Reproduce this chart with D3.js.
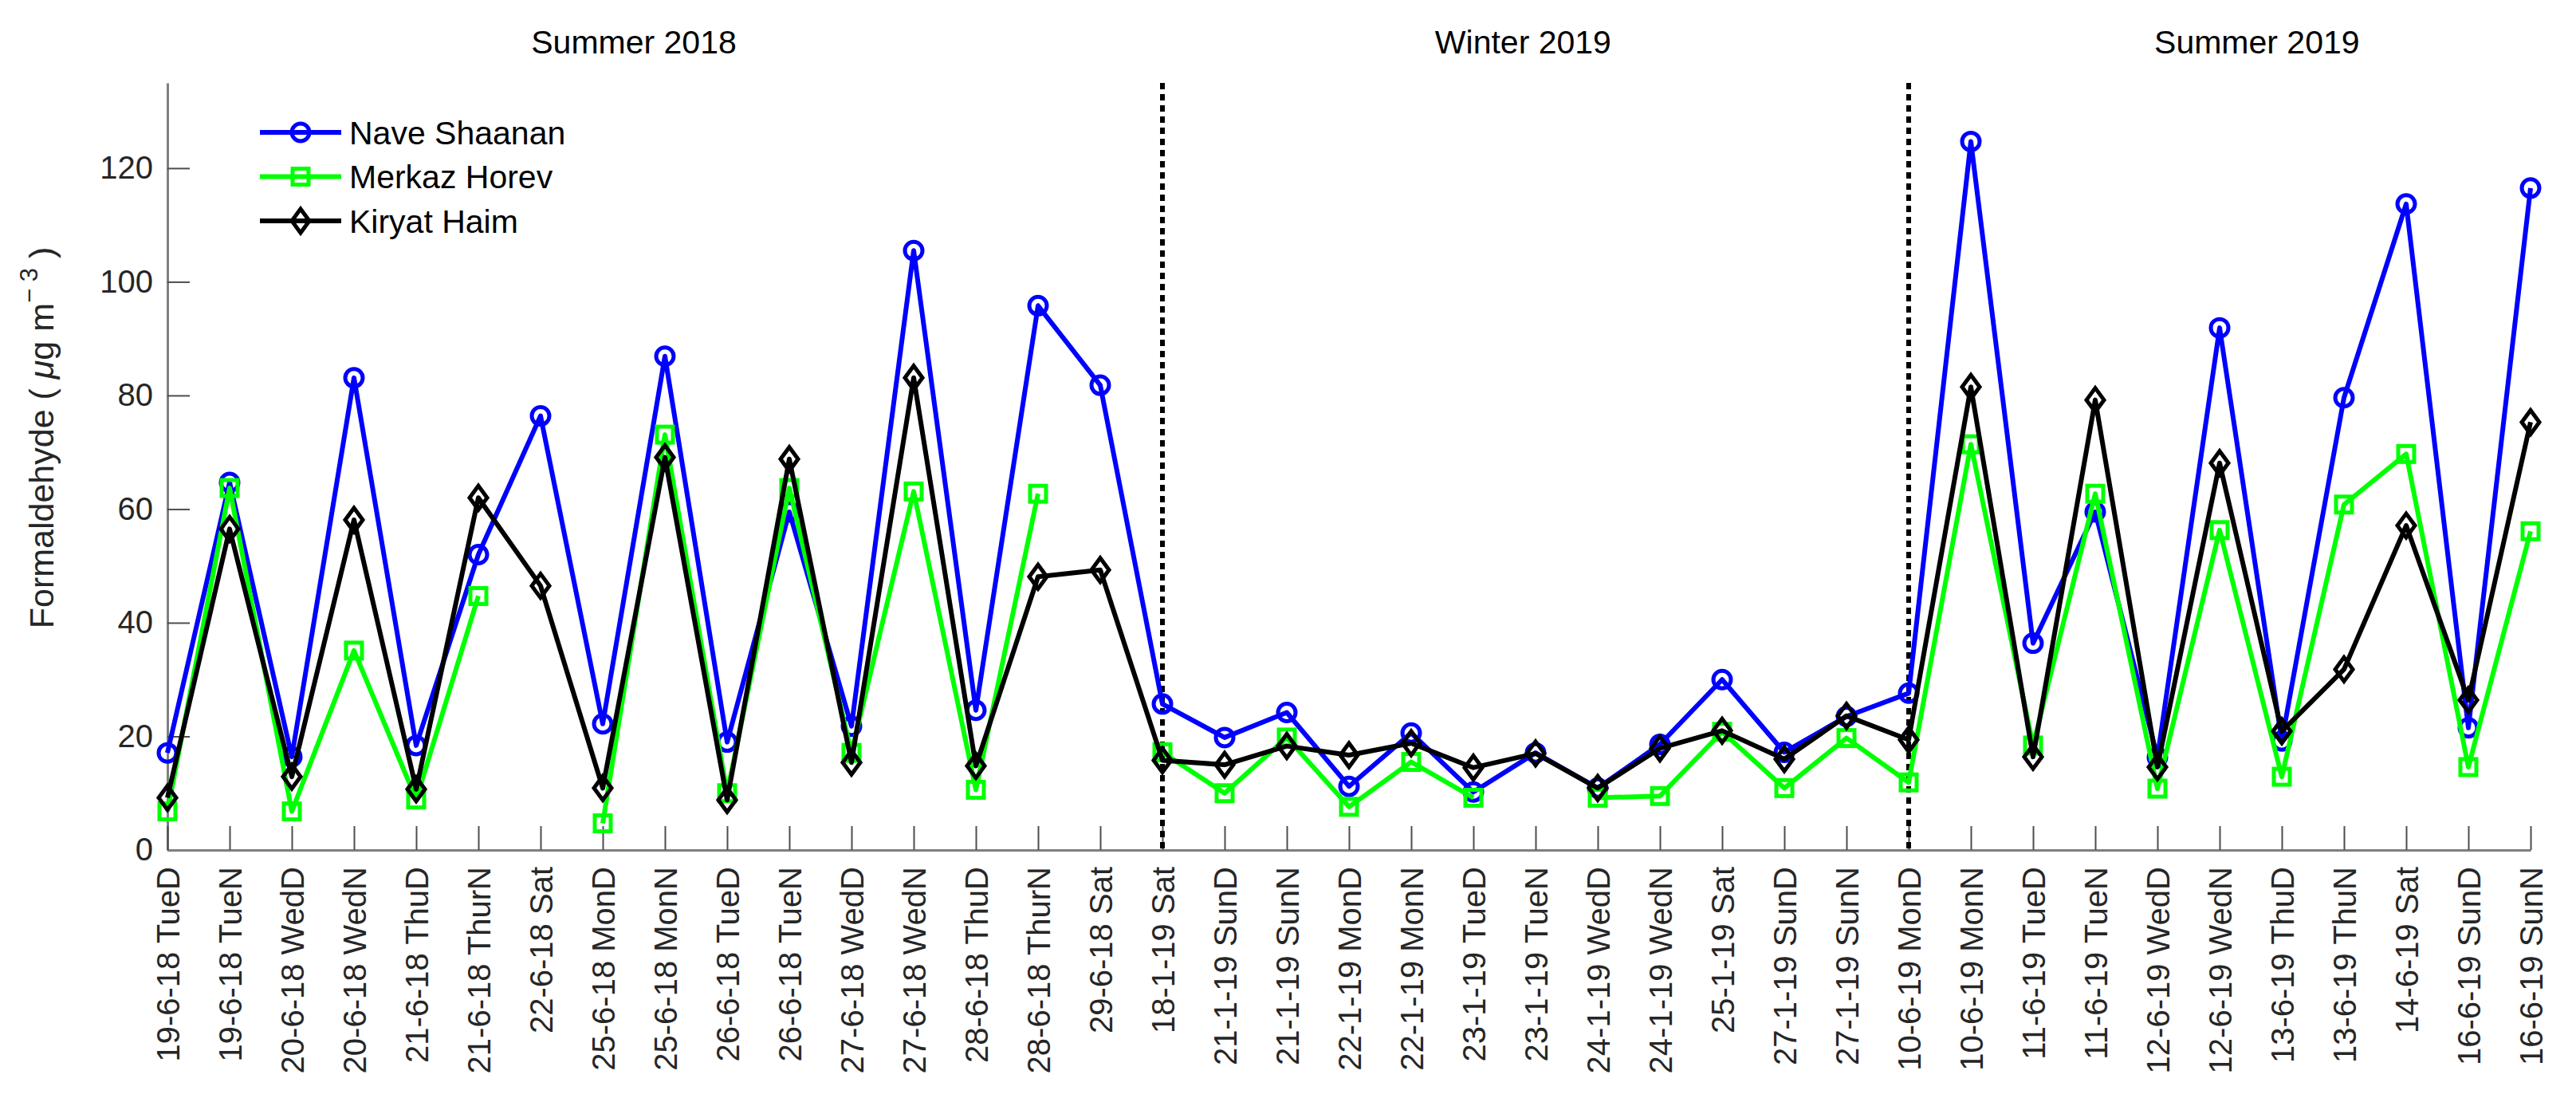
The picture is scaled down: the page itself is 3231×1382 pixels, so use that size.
<!DOCTYPE html>
<html>
<head>
<meta charset="utf-8">
<script src="https://cdn.jsdelivr.net/npm/d3@7"></script>
<style>
  body { margin: 0; background: #fff; }
  svg { display: block; font-family: "Liberation Sans", Arial, sans-serif; }
</style>
</head>
<body>
<svg id="chart" width="3231" height="1382"></svg>
<script>
var categories = [
  "19-6-18 TueD", "19-6-18 TueN", "20-6-18 WedD", "20-6-18 WedN", "21-6-18 ThuD", "21-6-18 ThurN",
  "22-6-18 Sat", "25-6-18 MonD", "25-6-18 MonN", "26-6-18 TueD", "26-6-18 TueN", "27-6-18 WedD",
  "27-6-18 WedN", "28-6-18 ThuD", "28-6-18 ThurN", "29-6-18 Sat",
  "18-1-19 Sat", "21-1-19 SunD", "21-1-19 SunN", "22-1-19 MonD", "22-1-19 MonN", "23-1-19 TueD",
  "23-1-19 TueN", "24-1-19 WedD", "24-1-19 WedN", "25-1-19 Sat", "27-1-19 SunD", "27-1-19 SunN",
  "10-6-19 MonD", "10-6-19 MonN", "11-6-19 TueD", "11-6-19 TueN", "12-6-19 WedD", "12-6-19 WedN",
  "13-6-19 ThuD", "13-6-19 ThuN", "14-6-19 Sat", "16-6-19 SunD", "16-6-19 SunN"
];

var naveShaanan = [17.1, 64.7, 16.4, 83.1, 18.4, 52.0, 76.4, 22.2, 86.9, 19.0, 59.5, 21.8, 105.5, 24.6, 95.8, 81.8,
  25.7, 19.8, 24.2, 11.2, 20.6, 10.2, 17.1, 10.9, 18.6, 30.0, 17.2, 23.5,
  27.6, 124.7, 36.4, 59.5, 16.3, 91.9, 19.2, 79.6, 113.7, 21.5, 116.5];
var merkazHorev = [6.8, 63.7, 6.8, 35.1, 8.9, 44.7, null, 4.7, 73.1, 10.0, 63.7, 17.1, 63.1, 10.6, 62.7, null,
  17.2, 10.0, 19.8, 7.6, 15.5, 9.2, null, 9.2, 9.5, 20.8, 10.9, 19.7,
  11.9, 71.4, 18.4, 62.7, 10.8, 56.3, 12.9, 60.8, 69.7, 14.6, 56.1];
var kiryatHaim = [9.2, 56.5, 12.9, 58.1, 10.7, 62.0, 46.5, 10.9, 69.1, 8.8, 68.8, 15.4, 83.1, 14.8, 48.1, 49.3,
  15.8, 15.0, 18.3, 16.7, 18.8, 14.5, 17.0, 10.9, 17.9, 21.0, 16.0, 23.6,
  19.4, 81.5, 16.4, 79.2, 14.6, 68.1, 20.9, 31.8, 57.1, 26.4, 75.3];

var seriesNames = ["Nave Shaanan", "Merkaz Horev", "Kiryat Haim"];
var seriesColors = ["#0000ff", "#00ff00", "#000000"];
var seriesMarkers = ["circle", "square", "diamond"];

var yTicks = [0, 20, 40, 60, 80, 100, 120];
var seasonBreaks = [16, 28];
var seasonLabels = ["Summer 2018", "Winter 2019", "Summer 2019"];
var seasonCenters = [7.5, 21.8, 33.6];

var svg = d3.select("#chart");
// note: "top" is reserved on window, so use plot* names
var plotLeft = 210, plotRight = 3174, plotTop = 104, plotBottom = 1066;

var x = d3.scaleLinear().domain([0, categories.length - 1]).range([plotLeft, plotRight]);
var y = d3.scaleLinear().domain([0, 135]).range([plotBottom, plotTop]);

// axes
var yAxis = svg.append("g")
  .attr("transform", "translate(" + plotLeft + ",0)")
  .call(d3.axisLeft(y).tickValues(yTicks).tickSizeInner(-28).tickSizeOuter(0).tickPadding(18));

var xAxis = svg.append("g")
  .attr("transform", "translate(0," + plotBottom + ")")
  .call(d3.axisBottom(x).tickValues(d3.range(categories.length))
    .tickFormat(function(i){ return categories[i]; })
    .tickSizeInner(-30).tickSizeOuter(0));

[yAxis, xAxis].forEach(function(ax){
  ax.select(".domain").attr("stroke", "#7f7f7f").attr("stroke-width", 3);
  ax.selectAll(".tick line").attr("stroke", "#4d4d4d").attr("stroke-width", 2);
  ax.selectAll(".tick text")
    .attr("fill", "#262626")
    .style("font-family", "'Liberation Sans', Arial, sans-serif")
    .style("font-size", "40px");
});

xAxis.selectAll(".tick text")
  .attr("transform", "rotate(-90)")
  .attr("x", -21)
  .attr("y", 0)
  .attr("dy", "0.35em")
  .attr("text-anchor", "end");

// y label
var yLabel = svg.append("text")
  .attr("transform", "translate(67,549) rotate(-90)")
  .attr("text-anchor", "middle")
  .attr("fill", "#262626")
  .style("font-size", "43px");
yLabel.append("tspan").text("Formaldehyde (  ");
yLabel.append("tspan").style("font-style", "italic").text("\u03bc");
yLabel.append("tspan").text("g m");
yLabel.append("tspan").attr("dy", -20).style("font-size", "31px").text("\u2212 3");
yLabel.append("tspan").attr("dy", 20).text("  )");

// season separators
svg.selectAll(".sep")
  .data(seasonBreaks)
  .enter()
  .append("line")
  .attr("class", "sep")
  .attr("x1", function(d){ return x(d); })
  .attr("x2", function(d){ return x(d); })
  .attr("y1", plotTop)
  .attr("y2", plotBottom)
  .attr("stroke", "#000")
  .attr("stroke-width", 6)
  .attr("stroke-dasharray", "8,6");

svg.selectAll(".season")
  .data(seasonLabels)
  .enter()
  .append("text")
  .attr("class", "season")
  .attr("x", function(d, i){ return x(seasonCenters[i]); })
  .attr("y", 67)
  .attr("text-anchor", "middle")
  .attr("fill", "#000")
  .style("font-size", "41px")
  .text(function(d){ return d; });

// marker drawing
var drawMarker = function(g, type, color){
  if (type === "circle") {
    g.append("circle").attr("r", 11);
  } else if (type === "square") {
    g.append("rect").attr("x", -10).attr("y", -10).attr("width", 20).attr("height", 20);
  } else {
    g.append("path").attr("d", "M0,-15L11,0L0,15L-11,0Z");
  }
  g.selectAll("*")
    .attr("fill", "none")
    .attr("stroke", color)
    .attr("stroke-width", 5);
}

var allSeries = [naveShaanan, merkazHorev, kiryatHaim];

var line = d3.line()
  .defined(function(d){ return d !== null; })
  .x(function(d, i){ return x(i); })
  .y(function(d){ return y(d); });

allSeries.forEach(function(values, s){
  var g = svg.append("g").attr("class", "series-" + s);
  g.append("path")
    .datum(values)
    .attr("d", line)
    .attr("fill", "none")
    .attr("stroke", seriesColors[s])
    .attr("stroke-width", 6)
    .attr("stroke-linejoin", "round");
  g.selectAll(".pt")
    .data(values.map(function(v, i){ return {v: v, i: i}; }).filter(function(d){ return d.v !== null; }))
    .enter()
    .append("g")
    .attr("class", "pt")
    .attr("transform", function(d){ return "translate(" + x(d.i) + "," + y(d.v) + ")"; })
    .each(function(){ drawMarker(d3.select(this), seriesMarkers[s], seriesColors[s]); });
});

// legend
var legend = svg.append("g").attr("transform", "translate(326,166)");
seriesNames.forEach(function(name, s){
  var row = legend.append("g").attr("transform", "translate(0," + (s * 55.5) + ")");
  row.append("line")
    .attr("x1", 0).attr("x2", 102)
    .attr("stroke", seriesColors[s])
    .attr("stroke-width", 6);
  drawMarker(row.append("g").attr("transform", "translate(51,0)"), seriesMarkers[s], seriesColors[s]);
  row.append("text")
    .attr("x", 112)
    .attr("dy", "0.36em")
    .attr("fill", "#000")
    .style("font-size", "41px")
    .text(name);
});
</script>
</body>
</html>
